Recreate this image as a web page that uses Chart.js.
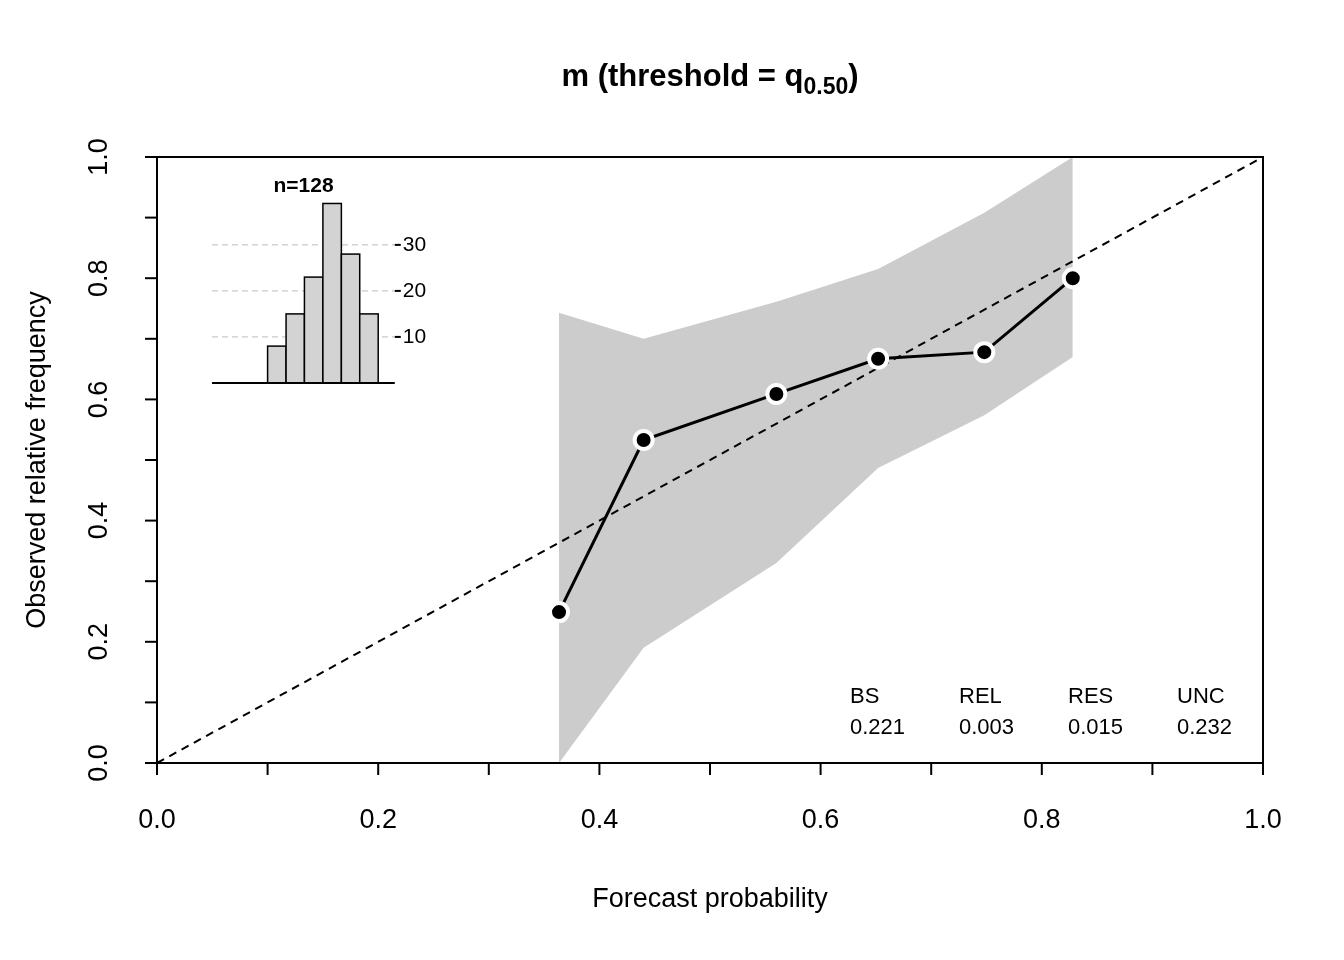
<!DOCTYPE html>
<html lang="en">
<head>
<meta charset="UTF-8">
<title>Reliability diagram</title>
<script src="https://cdn.jsdelivr.net/npm/chart.js@4.4.2/dist/chart.umd.min.js"></script>
<style>
  body { margin: 0; background: #fff; }
  #wrap { width: 1344px; height: 960px; }
</style>
</head>
<body>
<div id="wrap"><canvas id="c" width="1344" height="960"></canvas></div>
<script>
const forecastProb = [0.3635, 0.440, 0.560, 0.652, 0.748, 0.828];
const observedFreq = [0.249, 0.533, 0.609, 0.667, 0.678, 0.800];
const bandUpper = [0.743, 0.700, 0.761, 0.815, 0.908, 1.0];
const bandLower = [0.0, 0.19, 0.33, 0.487, 0.574, 0.670];
const histEdges = [0.1, 0.1167, 0.1333, 0.15, 0.1667, 0.1833, 0.2];
const histCounts = [8, 15, 23, 39, 28, 15];
const histTicks = [10, 20, 30];
const axisTicks = [0, 0.1, 0.2, 0.3, 0.4, 0.5, 0.6, 0.7, 0.8, 0.9, 1.0];
const axisLabels = [0, 0.2, 0.4, 0.6, 0.8, 1.0];
const statNames = ['BS', 'REL', 'RES', 'UNC'];
const statValues = ['0.221', '0.003', '0.015', '0.232'];

const FONT = '"Liberation Sans", Arial, sans-serif';

const decor = {
  id: 'decor',
  afterDraw(chart) {
    const ctx = chart.ctx, x = chart.scales.x, y = chart.scales.y, yh = chart.scales.yh;
    const a = chart.chartArea;
    ctx.save();
    ctx.strokeStyle = '#000'; ctx.fillStyle = '#000'; ctx.lineWidth = 2;
    ctx.strokeRect(a.left, a.top, a.right - a.left, a.bottom - a.top);
    // x axis ticks + labels
    ctx.font = '27px ' + FONT; ctx.textAlign = 'center'; ctx.textBaseline = 'top';
    axisTicks.forEach(t => {
      const px = x.getPixelForValue(t);
      ctx.beginPath(); ctx.moveTo(px, a.bottom); ctx.lineTo(px, a.bottom + 12); ctx.stroke();
    });
    axisLabels.forEach(t => ctx.fillText(t.toFixed(1), x.getPixelForValue(t), a.bottom + 44));
    // y axis
    axisTicks.forEach(t => {
      const py = y.getPixelForValue(t);
      ctx.beginPath(); ctx.moveTo(a.left, py); ctx.lineTo(a.left - 12, py); ctx.stroke();
    });
    axisLabels.forEach(t => {
      ctx.save(); ctx.translate(a.left - 44, y.getPixelForValue(t)); ctx.rotate(-Math.PI / 2);
      ctx.textBaseline = 'bottom'; ctx.fillText(t.toFixed(1), 0, 0); ctx.restore();
    });
    // axis titles
    ctx.textBaseline = 'middle';
    ctx.fillText('Forecast probability', (a.left + a.right) / 2, 900);
    ctx.save(); ctx.translate(38, (a.top + a.bottom) / 2); ctx.rotate(-Math.PI / 2);
    ctx.fillText('Observed relative frequency', 0, 0); ctx.restore();
    // title with subscript
    ctx.font = 'bold 31px ' + FONT; ctx.textAlign = 'left';
    const t1 = 'm (threshold = q', sub = '0.50', t2 = ')';
    ctx.font = 'bold 31px ' + FONT; const w1 = ctx.measureText(t1).width, w3 = ctx.measureText(t2).width;
    ctx.font = 'bold 23px ' + FONT; const w2 = ctx.measureText(sub).width;
    let sx = 710 - (w1 + w2 + w3) / 2;
    ctx.font = 'bold 31px ' + FONT; ctx.fillText(t1, sx, 77);
    ctx.font = 'bold 23px ' + FONT; ctx.fillText(sub, sx + w1, 88);
    ctx.font = 'bold 31px ' + FONT; ctx.fillText(t2, sx + w1 + w2, 77);
    // inset histogram
    const hx0 = x.getPixelForValue(0.0497), hx1 = x.getPixelForValue(0.215);
    const base = yh.getPixelForValue(0);
    ctx.setLineDash([6, 4]); ctx.strokeStyle = '#bbb'; ctx.lineWidth = 1;
    histTicks.forEach(t => {
      const py = yh.getPixelForValue(t);
      ctx.beginPath(); ctx.moveTo(hx0, py); ctx.lineTo(hx1, py); ctx.stroke();
    });
    ctx.setLineDash([]); ctx.strokeStyle = '#000'; ctx.lineWidth = 1.5;
    histCounts.forEach((c, i) => {
      const l = x.getPixelForValue(histEdges[i]), r = x.getPixelForValue(histEdges[i + 1]);
      const top = yh.getPixelForValue(c);
      ctx.fillStyle = '#d3d3d3'; ctx.fillRect(l, top, r - l, base - top);
      ctx.strokeRect(l, top, r - l, base - top);
    });
    ctx.lineWidth = 2; ctx.beginPath(); ctx.moveTo(hx0, base); ctx.lineTo(hx1, base); ctx.stroke();
    ctx.fillStyle = '#000'; ctx.font = '21px ' + FONT; ctx.textAlign = 'left'; ctx.textBaseline = 'middle';
    histTicks.forEach(t => {
      const py = yh.getPixelForValue(t);
      ctx.beginPath(); ctx.moveTo(hx1, py); ctx.lineTo(hx1 + 6, py); ctx.stroke();
      ctx.fillText(String(t), hx1 + 8, py);
    });
    const total = histCounts.reduce((s, v) => s + v, 0);
    ctx.font = 'bold 21px ' + FONT; ctx.textAlign = 'center';
    ctx.fillText('n=' + total, x.getPixelForValue(0.1325), 186);
    // stats
    ctx.font = '22px ' + FONT; ctx.textAlign = 'left';
    statNames.forEach((n, i) => {
      const px = 850 + i * 109;
      ctx.fillText(n, px, 697);
      ctx.fillText(statValues[i], px, 728);
    });
    ctx.restore();
  }
};

new Chart(document.getElementById('c'), {
  type: 'line',
  data: {
    datasets: [
      { data: forecastProb.map((p, i) => ({ x: p, y: bandUpper[i] })), borderWidth: 0, pointRadius: 0,
        backgroundColor: '#cccccc', fill: '+1', order: 3 },
      { data: forecastProb.map((p, i) => ({ x: p, y: bandLower[i] })), borderWidth: 0, pointRadius: 0, order: 3 },
      { data: [{ x: 0, y: 0 }, { x: 1, y: 1 }], borderColor: '#000', borderWidth: 2, borderDash: [8, 6],
        pointRadius: 0, fill: false, order: 2 },
      { data: forecastProb.map((p, i) => ({ x: p, y: observedFreq[i] })), borderColor: '#000', borderWidth: 3,
        pointRadius: 9, pointBackgroundColor: '#000', pointBorderColor: '#fff', pointBorderWidth: 4,
        fill: false, order: 1 }
    ]
  },
  options: {
    responsive: false, animation: false,
    layout: { padding: { left: 157, right: 81, top: 157, bottom: 197 } },
    plugins: { legend: { display: false }, tooltip: { enabled: false } },
    scales: {
      x: { type: 'linear', min: 0, max: 1, display: false },
      y: { min: 0, max: 1, display: false },
      yh: { min: -82.6, max: 49.1, display: false }
    }
  },
  plugins: [decor]
});
</script>
</body>
</html>
